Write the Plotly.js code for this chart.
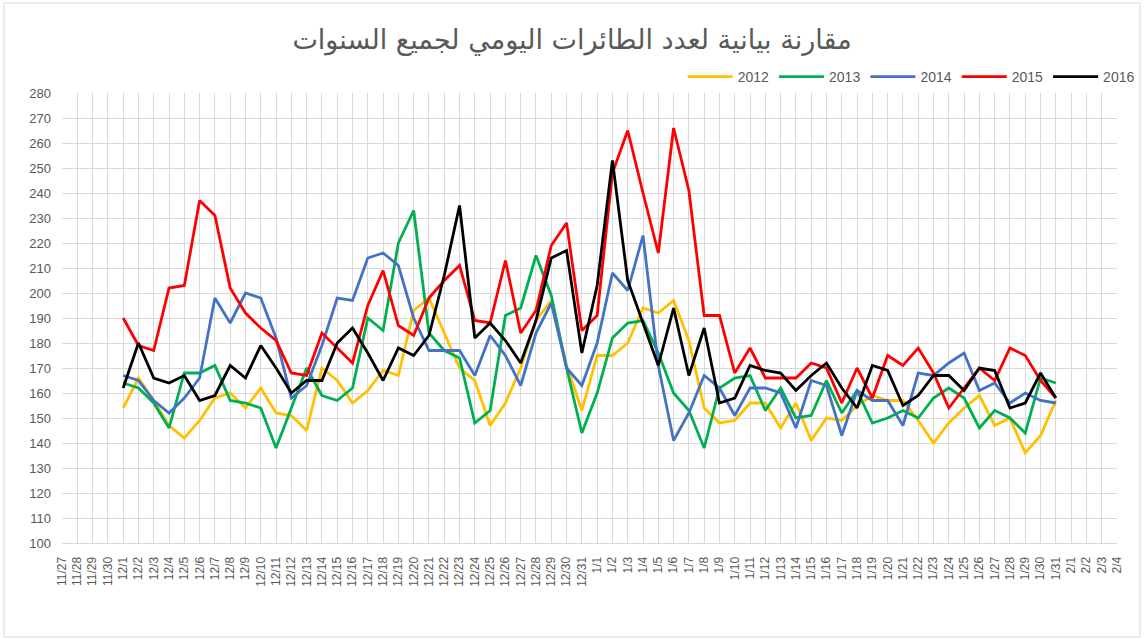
<!DOCTYPE html>
<html><head><meta charset="utf-8">
<script src="https://cdn.plot.ly/plotly-3.0.1.min.js"></script>
<style>html,body{margin:0;padding:0;background:#fff;} #chart{width:1144px;height:639px;}</style>
</head><body><div id="chart"></div>
<script>
const categories = ["11/27","11/28","11/29","11/30",
 "12/1","12/2","12/3","12/4","12/5","12/6","12/7","12/8","12/9","12/10","12/11","12/12","12/13","12/14","12/15","12/16",
 "12/17","12/18","12/19","12/20","12/21","12/22","12/23","12/24","12/25","12/26","12/27","12/28","12/29","12/30","12/31",
 "1/1","1/2","1/3","1/4","1/5","1/6","1/7","1/8","1/9","1/10","1/11","1/12","1/13","1/14","1/15","1/16",
 "1/17","1/18","1/19","1/20","1/21","1/22","1/23","1/24","1/25","1/26","1/27","1/28","1/29","1/30","1/31",
 "2/1","2/2","2/3","2/4"];
const days = categories.slice(4, 66);

const y2012 = [154,166,157,147,142,149,158,160,154,162,152,151,145,170,165,156,161,169,167,193,198,184,170,165,147,156,170,189,197,171,153,
 175,175,180,194,192,197,181,154,148,149,156,156,146,156,141,150,149,155,159,157,157,149,140,148,154,159,147,150,136,143,157];
const y2013 = [164,162,156,146,168,168,171,157,156,154,138,154,170,159,157,162,190,185,220,233,184,177,174,148,153,191,194,215,199,170,144,
 160,182,188,189,176,160,153,138,162,166,167,153,162,150,151,165,152,161,148,150,153,150,158,162,158,146,153,150,144,166,164];
const y2014 = [167,165,157,152,158,166,198,188,200,198,182,158,163,179,198,197,214,216,211,190,177,177,177,167,183,175,163,184,196,170,163,
 180,208,201,223,171,141,152,167,162,151,162,162,160,146,165,163,143,161,157,157,147,168,167,172,176,161,164,156,160,157,156];
const y2015 = [190,179,177,202,203,237,231,202,192,186,181,168,167,184,178,172,195,209,187,183,198,205,211,189,188,213,184,193,219,228,185,
 191,248,265,240,216,266,241,191,191,168,178,166,166,166,172,170,156,170,158,175,171,178,168,154,162,170,165,178,175,165,158];
const y2016 = [162,180,166,164,167,157,159,171,166,179,170,160,165,165,180,186,176,165,178,175,183,207,235,182,188,181,172,189,214,217,176,
 203,253,205,188,171,194,167,186,156,158,171,169,168,161,167,172,162,154,171,169,155,159,167,167,161,170,169,154,156,168,158];

const seriesNames = ["2012","2013","2014","2015","2016"];
const seriesValues = [y2012, y2013, y2014, y2015, y2016];
const seriesColors = ["#FFC000","#00B050","#4472C4","#FF0000","#000000"];

const traces = [{
  x: categories, y: categories.map(() => null), mode: 'lines',
  showlegend: false, hoverinfo: 'skip', line: {color: 'rgba(0,0,0,0)'}
}];
seriesNames.forEach((n, i) => {
  traces.push({x: days, y: seriesValues[i], name: n, mode: 'lines',
    line: {color: seriesColors[i], width: 2.8}});
});

const tickFont = 'Liberation Sans, Arial, sans-serif';
const layout = {
  width: 1144, height: 639,
  margin: {l: 62, r: 27, t: 93, b: 96, autoexpand: false},
  paper_bgcolor: '#ffffff', plot_bgcolor: '#ffffff',
  title: {text: 'مقارنة بيانية لعدد الطائرات اليومي لجميع السنوات',
    x: 0.5, xref: 'container', xanchor: 'center',
    y: 0.9374, yref: 'container', yanchor: 'middle',
    font: {family: 'DejaVu Sans, sans-serif', size: 27, color: '#595959'}},
  showlegend: true,
  legend: {orientation: 'h', x: 1.0215, xanchor: 'right', y: 1.0356, yanchor: 'middle',
    font: {family: tickFont, size: 14, color: '#595959'}, itemwidth: 45,
    bgcolor: 'rgba(0,0,0,0)'},
  xaxis: {type: 'category', categoryorder: 'array', categoryarray: categories,
    range: [0, 69], tickmode: 'array', tickvals: categories, ticktext: categories,
    tickangle: -90, showgrid: true, gridcolor: '#d9d9d9', gridwidth: 1,
    showline: true, linecolor: '#d9d9d9', linewidth: 1, zeroline: false,
    ticks: '', ticklabelstandoff: 8, automargin: false,
    tickfont: {family: tickFont, size: 12, color: '#595959'}, fixedrange: true},
  yaxis: {range: [100, 280], tick0: 100, dtick: 10, showgrid: true, gridcolor: '#d9d9d9',
    gridwidth: 1, zeroline: false, showline: false, ticks: '', ticklabelstandoff: 10,
    automargin: false,
    tickfont: {family: tickFont, size: 13, color: '#595959'}, fixedrange: true},
  shapes: [{type: 'rect', xref: 'paper', yref: 'paper',
    x0: -0.055, x1: 1.0218, y0: -0.2089, y1: 1.2,
    line: {color: '#d9d9d9', width: 1}, fillcolor: 'rgba(0,0,0,0)', layer: 'below'}]
};

Plotly.newPlot('chart', traces, layout, {displayModeBar: false, staticPlot: true});
</script>
</body></html>
